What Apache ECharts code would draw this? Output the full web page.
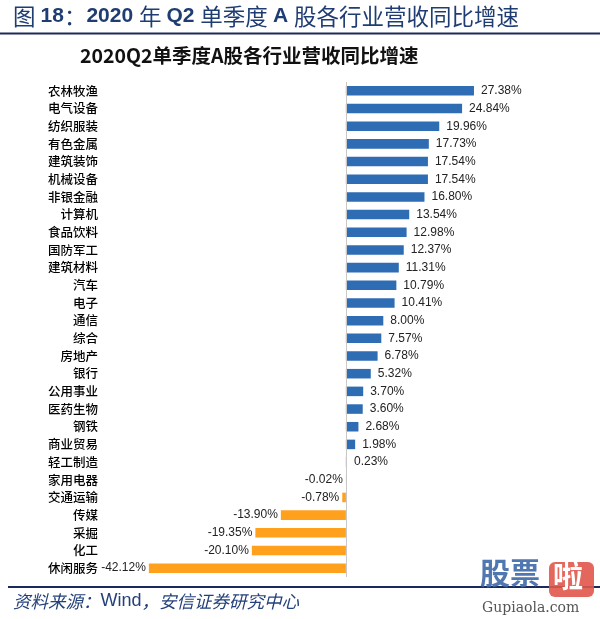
<!DOCTYPE html>
<html><head><meta charset="utf-8">
<script src="https://cdn.jsdelivr.net/npm/echarts@6/dist/echarts.min.js"></script>
<style>html,body{margin:0;padding:0;background:#fff}#c{width:600px;height:619px}</style>
</head><body><div id="c"></div>
<script>
const categories = ['农林牧渔','电气设备','纺织服装','有色金属','建筑装饰','机械设备','非银金融','计算机','食品饮料','国防军工','建筑材料','汽车','电子','通信','综合','房地产','银行','公用事业','医药生物','钢铁','商业贸易','轻工制造','家用电器','交通运输','传媒','采掘','化工','休闲服务'];
const values = [27.38,24.84,19.96,17.73,17.54,17.54,16.80,13.54,12.98,12.37,11.31,10.79,10.41,8.00,7.57,6.78,5.32,3.70,3.60,2.68,1.98,0.23,-0.02,-0.78,-13.90,-19.35,-20.10,-42.12];
const pageTitleParts = [['c','图 '],['l','18'],['c','：'],['l','2020 '],['c','年 '],['l','Q2 '],['c','单季度 '],['l','A '],['c','股各行业营收同比增速']];
const chartTitle = '2020Q2单季度A股各行业营收同比增速';
const sourceParts = [['c','资料来源：'],['l','Wind'],['c','，安信证券研究中心']];

const chart = echarts.init(document.getElementById('c'));
const rt = parts => parts.map(p => '{' + p[0] + '|' + p[1] + '}').join('');
chart.setOption({
  animation: false,
  grid: {left: 112, right: 67, top: 82, bottom: 42, containLabel: false},
  xAxis: {type: 'value', min: -50, max: 40, show: false},
  yAxis: {
    type: 'category', data: categories, inverse: true,
    axisLine: {show: false}, axisTick: {show: false},
    axisLabel: {margin: 14, color: '#000', fontSize: 12.5, fontWeight: 500, fontFamily: 'Noto Sans CJK SC'}
  },
  series: [{
    type: 'bar', barWidth: '54%',
    data: values.map(v => ({value: v, itemStyle: {color: v >= 0 ? '#2e6db4' : '#ffa11c'},
      label: {position: v >= 0 ? 'right' : 'left', distance: v >= 0 ? 7 : 3}})),
    label: {show: true, color: '#222', fontSize: 12, fontFamily: 'Liberation Sans',
      formatter: p => p.value.toFixed(2) + '%'},
    markLine: {silent: true, symbol: 'none', label: {show: false},
      lineStyle: {color: '#c8c8c8', type: 'solid', width: 1},
      data: [{xAxis: 0}]}
  }],
  graphic: [
    {type: 'text', left: 13, top: 5, style: {text: rt(pageTitleParts), rich: {
      c: {fill: '#1f3d73', font: '22.5px "Noto Sans CJK SC"'},
      l: {fill: '#1f3d73', font: 'bold 21px "Liberation Sans"'}
    }}},
    {type: 'rect', shape: {x: 0, y: 32.5, width: 600, height: 2}, style: {fill: '#1c2a5a'}},
    {type: 'text', left: 80, top: 46, style: {text: chartTitle, fill: '#111', font: 'bold 19.5px "Noto Sans CJK SC"'}},
    {type: 'rect', shape: {x: 8, y: 586, width: 592, height: 2}, style: {fill: '#1c2a5a'}},
    {type: 'text', left: 13, top: 592, style: {text: rt(sourceParts), rich: {
      c: {fill: '#24407a', font: 'italic 17.5px "Noto Sans CJK SC"'},
      l: {fill: '#24407a', font: '18px "Liberation Sans"'}
    }}},
    {type: 'text', left: 480, top: 558, style: {text: '股票', fill: '#3d68a6', font: 'bold 30px "Noto Sans CJK SC"', opacity: 0.9}},
    {type: 'rect', shape: {x: 549, y: 562, width: 45, height: 35, r: 6}, style: {fill: '#e0574a', opacity: 0.9}},
    {type: 'text', left: 553, top: 561, style: {text: '啦', fill: '#fff', font: 'bold 30px "Noto Sans CJK SC"'}},
    {type: 'text', left: 482, top: 601, style: {text: 'Gupiaola.com', fill: '#555', font: '14px "DejaVu Serif"'}}
  ]
});
</script></body></html>
